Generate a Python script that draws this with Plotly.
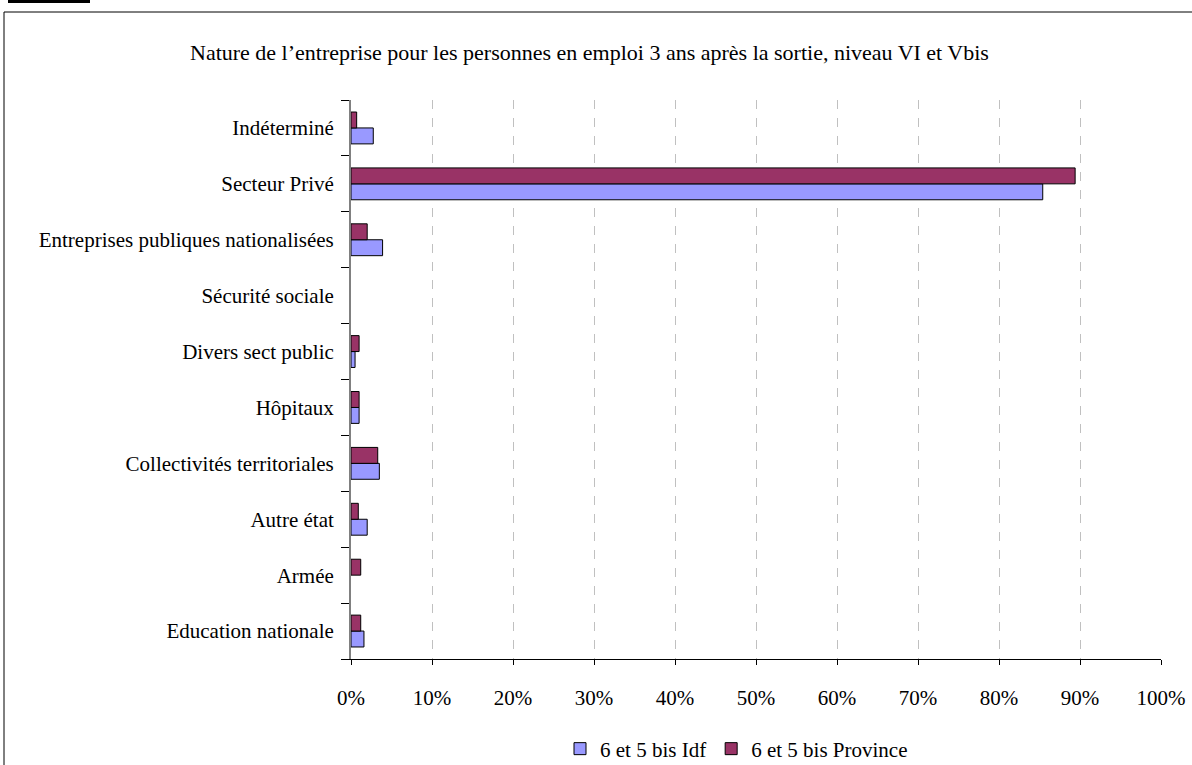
import plotly.graph_objects as go

categories = ["Education nationale", "Armée", "Autre état", "Collectivités territoriales",
              "Hôpitaux", "Divers sect public", "Sécurité sociale",
              "Entreprises publiques nationalisées", "Secteur Privé", "Indéterminé"]
idf = [1.6, 0.0, 2.0, 3.5, 1.0, 0.5, 0.0, 3.9, 85.4, 2.75]
province = [1.2, 1.2, 0.9, 3.3, 1.0, 1.0, 0.0, 2.0, 89.4, 0.7]
series_names = ["6 et 5 bis Idf", "6 et 5 bis Province"]
colors = ["#9999FF", "#993366"]
x_ticks = list(range(0, 101, 10))
x_ticklabels = [f"{v}%" for v in x_ticks]
title_text = "Nature de l\u2019entreprise pour les personnes en emploi 3 ans après la sortie, niveau VI et Vbis"

W, H = 1192, 765
L, R, T, B = 351, 1161, 100, 659

fig = go.Figure()
for name, vals, col in zip(series_names, [idf, province], colors):
    fig.add_trace(go.Bar(y=categories, x=vals, name=name, orientation="h",
                         marker=dict(color=col,
                                     line=dict(color="black",
                                               width=[1 if v > 0 else 0 for v in vals]))))

def px(xp):
    return (xp - L) / (R - L)

def py(yp):
    return (B - yp) / (B - T)

font = "Liberation Serif, Times New Roman, serif"
fig.update_layout(
    width=W, height=H,
    margin=dict(l=L, r=W - R, t=T, b=H - B, autoexpand=False),
    paper_bgcolor="white", plot_bgcolor="white",
    barmode="group", bargap=0.43, bargroupgap=0,
    font=dict(family=font, size=21, color="black"),
    showlegend=True,
    legend=dict(orientation="h", x=px(560), xanchor="left", y=py(749), yanchor="middle",
                font=dict(size=21), itemwidth=30, traceorder="normal", bgcolor="rgba(0,0,0,0)"),
    xaxis=dict(range=[0, 100], tickvals=x_ticks, ticktext=x_ticklabels,
               showgrid=True, gridcolor="#C0C0C0", griddash="dash", gridwidth=1,
               showline=True, linecolor="black", linewidth=1,
               ticks="outside", ticklen=5, tickcolor="black", automargin=False,
               ticklabelstandoff=15, zeroline=False, mirror=False, fixedrange=True),
    yaxis=dict(type="category", categoryorder="array", categoryarray=categories,
               tickson="boundaries", showline=True, linecolor="#808080", linewidth=2,
               ticks="outside", ticklen=8, tickcolor="black", showgrid=False,
               automargin=False, ticklabelstandoff=11, fixedrange=True),
    shapes=[
        dict(type="rect", xref="paper", yref="paper", x0=px(4), x1=px(1250), y0=py(12), y1=py(900),
             line=dict(color="black", width=1), fillcolor="rgba(0,0,0,0)", layer="below"),
        dict(type="line", xref="paper", yref="paper", x0=px(8), x1=px(90), y0=py(1.5), y1=py(1.5),
             line=dict(color="black", width=3)),
    ],
    annotations=[dict(text=title_text, xref="paper", yref="paper", x=px(589), y=py(52),
                      xanchor="center", yanchor="middle", showarrow=False,
                      font=dict(size=22, family=font))],
)
fig.write_html("out.html")
